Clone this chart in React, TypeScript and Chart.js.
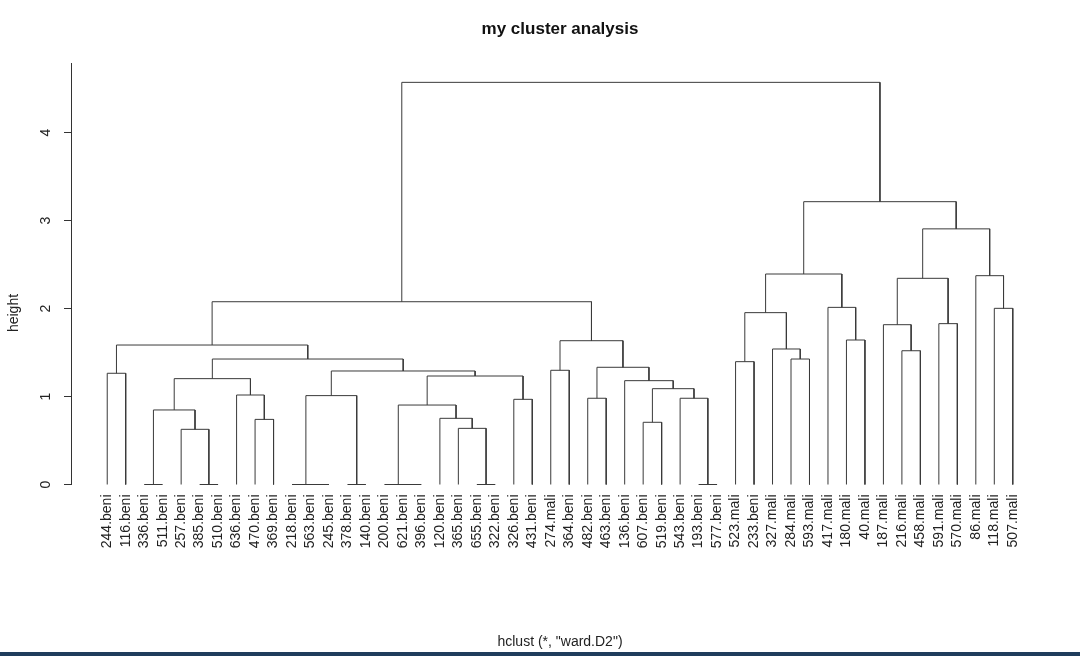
import React, { useEffect, useRef } from "react";
import { Chart, registerables } from "chart.js";

Chart.register(...registerables);

// Leaf labels in dendrogram order (left to right)
const leafLabels = [
  "244.beni", "116.beni", "336.beni", "511.beni", "257.beni", "385.beni", "510.beni",
  "636.beni", "470.beni", "369.beni", "218.beni", "563.beni", "245.beni", "378.beni",
  "140.beni", "200.beni", "621.beni", "396.beni", "120.beni", "365.beni", "655.beni",
  "322.beni", "326.beni", "431.beni", "274.mali", "364.beni", "482.beni", "463.beni",
  "136.beni", "607.beni", "519.beni", "543.beni", "193.beni", "577.beni", "523.mali",
  "233.beni", "327.mali", "284.mali", "593.mali", "417.mali", "180.mali", "40.mali",
  "187.mali", "216.mali", "458.mali", "591.mali", "570.mali", "86.mali", "118.mali",
  "507.mali",
];

// Merge table (R hclust style): negative = leaf position, positive = earlier merge number
const mergeLeft = [
  -3, -6, -12, -11, -14, -17, -16, -21, -33, -5,
  -20, -30, -9, -19, 1, 7, -23, -27, -32, 4,
  -8, 12, -29, 15, 16, -1, 20, -25, 18, -35,
  -38, 24, -44, -37, 26, 28, -41, -43, -46, 30,
  -49, -40, 35, 38, -48, 40, 44, 46, 43,
];
const mergeRight = [
  -4, -7, -13, 3, -15, -18, 6, -22, -34, 2,
  8, -31, -10, 11, 10, 14, -24, -28, 9, 5,
  13, 19, 22, 21, 17, -2, 25, -26, 23, -36,
  -39, 27, -45, 31, 32, 29, -42, 33, -47, 34,
  -50, 37, 36, 39, 41, 42, 45, 47, 48,
];
const mergeHeight = [
  0, 0, 0, 0, 0, 0, 0, 0, 0, 0.627,
  0.638, 0.707, 0.74, 0.752, 0.847, 0.903, 0.968, 0.98, 0.98, 1.01,
  1.017, 1.089, 1.18, 1.203, 1.233, 1.264, 1.29, 1.298, 1.332, 1.396,
  1.426, 1.426, 1.52, 1.54, 1.585, 1.634, 1.642, 1.816, 1.828, 1.953,
  2.002, 2.013, 2.077, 2.343, 2.373, 2.392, 2.905, 3.214, 4.57,
];

const yTickValues = [0, 1, 2, 3, 4];
const chartTitle = "my cluster analysis";
const xAxisTitle = 'hclust (*, "ward.D2")';
const yAxisTitle = "height";

const FONT = "'Liberation Sans', Arial, Helvetica, sans-serif";
const LINE_COLOR = "#3a3a3a";

function buildDatasets() {
  const nodeX: number[] = [];
  const nodeH: number[] = [];
  const child = (ref: number) =>
    ref < 0 ? { x: -ref, h: 0 } : { x: nodeX[ref - 1], h: nodeH[ref - 1] };
  const datasets: any[] = [];
  for (let i = 0; i < mergeHeight.length; i++) {
    const a = child(mergeLeft[i]);
    const b = child(mergeRight[i]);
    const h = mergeHeight[i];
    nodeX.push((a.x + b.x) / 2);
    nodeH.push(h);
    datasets.push({
      label: "merge " + (i + 1),
      data: [
        { x: a.x, y: a.h },
        { x: a.x, y: h },
        { x: b.x, y: h },
        { x: b.x, y: b.h },
      ],
      borderColor: LINE_COLOR,
      borderWidth: 1,
      pointRadius: 0,
      pointHoverRadius: 0,
      tension: 0,
      fill: false,
      clip: false,
      borderJoinStyle: "miter",
    });
  }
  return datasets;
}

const yTitlePlugin = {
  id: "yTitlePlugin",
  afterDraw(chart: any) {
    const ctx = chart.ctx;
    ctx.save();
    ctx.translate(14, 313);
    ctx.rotate(-Math.PI / 2);
    ctx.font = `14px ${FONT}`;
    ctx.fillStyle = "#222";
    ctx.textAlign = "center";
    ctx.textBaseline = "middle";
    ctx.fillText(yAxisTitle, 0, 0);
    ctx.restore();
  },
};

export default function App() {
  const canvasRef = useRef<HTMLCanvasElement | null>(null);

  useEffect(() => {
    if (!canvasRef.current) return;
    const chart = new Chart(canvasRef.current, {
      type: "line",
      data: { datasets: buildDatasets() },
      options: {
        animation: false,
        responsive: false,
        events: [],
        layout: { padding: { left: 0, right: 31, top: 0, bottom: 0 } },
        plugins: {
          legend: { display: false },
          tooltip: { enabled: false },
          title: {
            display: true,
            fullSize: false,
            text: chartTitle,
            color: "#111",
            font: { family: FONT, size: 17, weight: "bold" },
            padding: { top: 19, bottom: 23.6 },
          },
        },
        scales: {
          x: {
            type: "linear",
            min: -0.96,
            max: leafLabels.length + 1.96,
            grid: { display: false, drawTicks: false },
            border: { display: false },
            afterBuildTicks: (scale: any) => {
              scale.ticks = leafLabels.map((_, i) => ({ value: i + 1 }));
            },
            afterFit: (scale: any) => {
              scale.height = 171.5;
            },
            ticks: {
              autoSkip: false,
              minRotation: 90,
              maxRotation: 90,
              padding: 10,
              color: "#222",
              font: { family: FONT, size: 14 },
              callback: (v: any) => leafLabels[Math.round(Number(v)) - 1] ?? "",
            },
            title: {
              display: true,
              text: xAxisTitle,
              color: "#222",
              font: { family: FONT, size: 14 },
              padding: { top: 0, bottom: 5 },
            },
          },
          y: {
            type: "linear",
            min: 0,
            max: 4.79,
            grid: {
              display: true,
              drawOnChartArea: false,
              drawTicks: true,
              tickLength: 7,
              color: "#333",
            },
            border: { display: true, color: "#333", width: 1 },
            afterBuildTicks: (scale: any) => {
              scale.ticks = yTickValues.map((v) => ({ value: v }));
            },
            afterFit: (scale: any) => {
              scale.width = 71;
            },
            ticks: {
              minRotation: 90,
              maxRotation: 90,
              crossAlign: "center",
              padding: 14,
              color: "#222",
              font: { family: FONT, size: 14 },
              callback: (v: any) => String(v),
            },
          },
        },
      },
      plugins: [yTitlePlugin],
    } as any);
    return () => chart.destroy();
  }, []);

  return (
    <div
      style={{
        position: "absolute",
        left: 0,
        top: 0,
        width: 1080,
        height: 656,
        background: "#ffffff",
        overflow: "hidden",
      }}
    >
      <canvas ref={canvasRef} width={1080} height={656} />
      <div
        style={{
          position: "absolute",
          left: 0,
          top: 652,
          width: 1080,
          height: 4,
          background: "#1f3d5c",
        }}
      />
    </div>
  );
}
